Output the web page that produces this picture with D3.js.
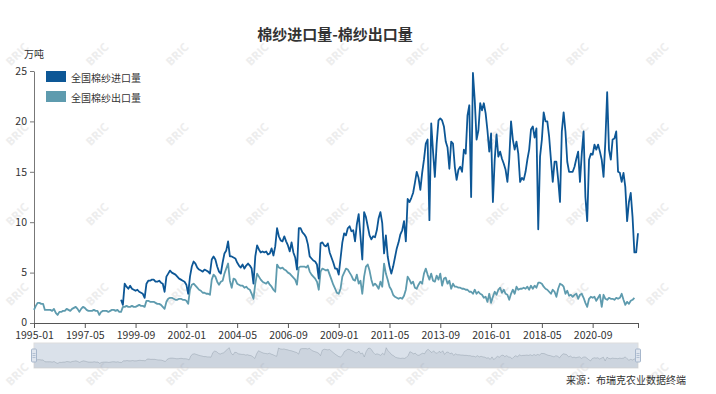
<!DOCTYPE html>
<html>
<head>
<meta charset="utf-8">
<script src="https://d3js.org/d3.v7.min.js"></script>
<style>
  body { margin: 0; background: #fff; }
  svg { display: block; font-family: "Noto Sans CJK SC", "Microsoft YaHei", sans-serif; }
</style>
</head>
<body>
<div id="chart"></div>
<script>
/*=====================================================================
 global variables
======================================================================*/

/**************
 text
***************/
var titleText = "棉纱进口量-棉纱出口量";
var unitText = "万吨";
var sourceText = "来源：布瑞克农业数据终端";
var seriesNames = ["全国棉纱进口量", "全国棉纱出口量"];
var seriesColors = ["#0d5796", "#5e9bae"];

/**************
 categories / ticks
***************/
var startYear = 1995, monthCount = 334; // 1995-01 .. 2022-10
var xTickLabels = ["1995-01", "1997-05", "1999-09", "2002-01", "2004-05", "2006-09",
    "2009-01", "2011-05", "2013-09", "2016-01", "2018-05", "2020-09"];
var yTicks = [0, 5, 10, 15, 20, 25];

var months = [];
for (var m = 0; m < monthCount; m++) {
    var yr = startYear + Math.floor(m / 12), mo = (m % 12) + 1;
    months.push(yr + "-" + (mo < 10 ? "0" + mo : mo));
}

/**************
 data (万吨), monthly
***************/
// import starts 1999-01
var importData = new Array(48).fill(null).concat([
    2.3, 1.8,
    3.9, 3.6, 3.4, 3.7, 3.4, 3.3, 3.2, 3.3, 3.1, 3.0,
    2.9, 2.5, 3.9, 4.2, 4.2, 4.3, 4.3, 4.1, 4.1, 4.2,
    4.0, 3.9, 3.1, 4.6, 4.9, 5.2, 5.0, 4.9, 4.8, 4.6,
    4.4, 4.3, 4.2, 4.1, 3.8, 2.9, 4.6, 5.6, 6.1, 5.9,
    5.5, 5.3, 5.2, 5.1, 5.3, 5.2, 5.1, 4.9, 6.3, 6.6,
    6.3, 5.6, 5.1, 4.9, 6.0, 6.9, 7.2, 8.1, 6.6, 6.6,
    6.5, 6.4, 6.0, 5.7, 5.5, 5.8, 5.4, 5.7, 5.9, 5.7,
    5.4, 3.9, 6.6, 7.7, 7.3, 7.0, 7.1, 7.0, 7.1, 6.8,
    6.9, 7.4, 6.7, 7.6, 9.4, 8.6, 8.2, 8.1, 8.6, 8.1,
    7.7, 7.1, 8.0, 7.0, 6.5, 5.3, 9.4, 9.4, 9.0, 8.8,
    8.5, 7.8, 6.6, 6.4, 6.2, 6.1, 5.8, 4.4, 7.9, 8.0,
    7.7, 7.6, 7.9, 7.0, 6.5, 6.0, 5.4, 5.4, 4.8, 6.4,
    8.0, 8.9, 8.7, 9.4, 9.6, 9.1, 9.2, 8.1, 9.8, 10.8,
    8.6, 6.3, 11.0, 10.5, 9.6, 8.7, 8.3, 8.6, 8.5, 9.2,
    10.4, 11.0, 9.9, 6.9, 8.7, 6.6, 5.6, 4.9, 5.6, 6.5,
    7.4, 8.0, 8.8, 9.2, 10.1, 8.1, 12.3, 12.0, 12.4, 12.9,
    13.9, 15.0, 14.4, 13.2, 14.9, 16.2, 17.8, 18.2, 10.2, 19.8,
    17.0, 14.5, 17.8, 20.1, 20.3, 20.1, 19.5, 18.0, 17.4, 15.3,
    18.0, 17.8, 15.5, 14.2, 15.2, 15.5, 15.0, 17.2, 16.8, 20.6,
    21.6, 12.5, 24.8, 22.1, 18.2, 19.1, 21.8, 21.1, 21.8, 20.8,
    19.1, 17.0, 18.8, 12.0, 16.2, 18.7, 16.5, 17.0, 16.3, 15.8,
    15.2, 14.0, 16.2, 20.0, 18.2, 17.2, 18.0, 16.8, 14.0, 14.4,
    14.2, 15.0, 16.2, 17.2, 19.2, 19.5, 18.4, 19.3, 9.3, 16.5,
    18.2, 20.9, 20.0, 20.0, 18.5, 16.2, 14.0, 16.0, 16.0, 14.2,
    12.0, 19.0, 20.9, 19.0, 16.0, 15.0, 15.0, 15.0, 15.5, 16.3,
    17.0, 14.0, 16.8, 19.0, 12.5, 10.1, 16.2, 16.8, 16.7, 17.7,
    17.2, 17.7, 17.0, 16.2, 14.5, 18.0, 22.9, 17.2, 16.2, 18.2,
    18.3, 19.0, 15.0, 14.9, 14.0, 14.9, 13.5, 10.1, 12.0, 12.9,
    10.5, 7.0, 7.0, 8.9
]);

// export runs 1995-01 .. 2022-08
var exportData = [
    1.3, 1.7, 2.0, 2.0, 1.9, 1.9, 1.3, 1.3, 1.3, 1.3,
    1.2, 1.4, 1.0, 0.8, 1.1, 1.1, 1.2, 1.2, 1.4, 1.3,
    1.2, 1.4, 1.5, 1.6, 1.4, 1.1, 1.4, 1.6, 1.5, 1.3,
    1.2, 1.2, 1.2, 1.3, 1.2, 1.2, 0.8, 1.1, 1.2, 1.2,
    1.2, 1.1, 1.2, 1.3, 1.3, 1.2, 1.3, 1.1, 1.1, 1.6,
    1.6, 1.7, 1.6, 1.6, 1.7, 1.6, 1.6, 1.7, 1.8, 1.7,
    1.7, 1.6, 2.2, 2.2, 2.1, 2.1, 2.1, 2.0, 1.9, 1.9,
    1.8, 1.6, 1.4, 2.1, 2.4, 2.5, 2.5, 2.4, 2.3, 2.3,
    2.4, 2.4, 2.3, 2.3, 2.2, 1.9, 3.3, 3.8, 3.9, 3.7,
    3.5, 3.3, 3.2, 3.0, 3.0, 2.9, 2.9, 2.8, 4.3, 4.8,
    4.6, 4.1, 3.8, 4.1, 4.2, 4.9, 5.4, 5.9, 4.2, 3.5,
    4.4, 4.3, 3.9, 3.8, 3.7, 3.7, 3.5, 3.6, 3.4, 3.3,
    2.9, 2.4, 3.9, 4.9, 4.6, 4.3, 4.1, 4.0, 3.9, 4.1,
    3.8, 3.6, 3.3, 3.1, 5.8, 5.5, 5.4, 5.5, 5.3, 5.2,
    5.0, 4.9, 4.7, 4.5, 4.3, 3.8, 5.5, 5.6, 5.6, 5.6,
    5.5, 5.7, 5.1, 4.8, 4.6, 4.4, 4.1, 3.3, 5.1, 5.4,
    5.3, 5.2, 5.3, 4.8, 4.3, 3.8, 3.4, 3.0, 2.9, 3.4,
    4.6, 5.0, 5.4, 5.3, 5.0, 4.7, 4.3, 4.2, 4.8, 3.9,
    4.2, 2.9, 4.6, 5.6, 5.8, 5.2, 4.3, 3.7, 3.9, 3.7,
    3.4, 4.1, 3.6, 5.9, 4.9, 4.3, 3.6, 3.3, 2.8, 2.6,
    2.5, 2.4, 2.5, 2.4, 2.7, 3.3, 4.6, 4.3, 3.9, 4.1,
    3.5, 3.4, 3.8, 4.1, 3.9, 4.9, 5.4, 4.8, 4.3, 4.9,
    4.2, 4.1, 4.7, 4.3, 4.9, 3.7, 4.4, 4.5, 3.9, 4.2,
    3.4, 3.9, 3.6, 3.6, 3.5, 3.5, 3.4, 3.4, 3.3, 3.3,
    3.1, 3.1, 2.9, 3.3, 2.9, 3.1, 2.9, 2.8, 2.5, 2.6,
    2.1, 2.9, 2.0, 2.6, 3.1, 2.8, 3.3, 3.5, 3.0, 3.3,
    2.9, 2.8, 2.3, 2.9, 3.3, 2.9, 3.6, 3.3, 3.4, 3.4,
    3.5, 3.4, 3.6, 3.3, 3.7, 3.4, 3.7, 3.5, 4.0, 4.0,
    3.9, 3.6, 3.4, 3.3, 3.1, 2.9, 3.3, 3.1, 2.6, 3.4,
    3.9, 3.8, 3.6, 2.9, 3.2, 2.7, 2.8, 2.6, 2.8, 2.9,
    2.4, 2.8, 2.9, 2.5, 2.0, 1.6, 2.4, 2.6, 2.5, 2.6,
    2.2, 2.5, 2.8, 1.6, 2.8, 2.4, 2.3, 2.5, 2.4, 2.4,
    2.3, 2.5, 2.4, 2.5, 2.9, 2.3, 1.8, 2.1, 1.9, 2.2,
    2.3, 2.5
];

/**************
 dimensions
***************/
var width = 716, height = 394;
var plot = { left: 34, right: 638, top: 71, bottom: 323 };
var slider = { top: 343, bottom: 368 };

/*=====================================================================
 draw
======================================================================*/
var svg = d3.select("#chart").append("svg")
    .attr("width", width)
    .attr("height", height);

// watermark
var wm = svg.append("g").attr("class", "watermark");
for (var r = 0; r < 5; r++) {
    for (var c = 0; c < 9; c++) {
        var wx = 17 + c * 80, wy = 54 + r * 80;
        wm.append("text")
            .attr("transform", "translate(" + wx + "," + wy + ") rotate(-45)")
            .attr("text-anchor", "middle")
            .attr("dominant-baseline", "central")
            .attr("font-size", 11.5)
            .attr("font-weight", "bold")
            .attr("font-family", "'Open Sans', sans-serif")
            .attr("fill", "#ededed")
            .text("BRIC");
    }
}

var x = d3.scalePoint().domain(months).range([plot.left, plot.right]);
var y = d3.scaleLinear().domain([0, 25]).range([plot.bottom, plot.top]);

// title
svg.append("text")
    .attr("x", 335).attr("y", 33)
    .attr("text-anchor", "middle")
    .attr("dominant-baseline", "central")
    .attr("font-size", 15)
    .attr("font-weight", "bold")
    .attr("fill", "#333")
    .text(titleText);

// y axis
var yAxis = svg.append("g")
    .attr("transform", "translate(" + plot.left + ",0)")
    .call(d3.axisLeft(y).tickValues(yTicks).tickSize(4).tickSizeOuter(0).tickPadding(3));
yAxis.select(".domain").attr("stroke", "#777");
yAxis.selectAll(".tick line").attr("stroke", "#777");
yAxis.selectAll("text").attr("fill", "#333").attr("font-size", 10.5)
    .attr("font-family", "'Noto Sans CJK SC', sans-serif");
// keep "0" clear of the first x label
yAxis.selectAll(".tick").filter(function (d) { return d === 0; })
    .select("text").attr("dy", "0.2em");

svg.append("text")
    .attr("x", plot.left).attr("y", 53)
    .attr("text-anchor", "middle")
    .attr("dominant-baseline", "central")
    .attr("font-size", 10)
    .attr("fill", "#333")
    .text(unitText);

// x axis
var lastMonth = months[months.length - 1];
var xAxis = svg.append("g")
    .attr("transform", "translate(0," + plot.bottom + ")")
    .call(d3.axisBottom(x)
        .tickValues(xTickLabels.concat([lastMonth]))
        .tickFormat(function (d) { return d === lastMonth ? "" : d; })
        .tickSize(5).tickSizeOuter(0).tickPadding(4));
xAxis.select(".domain").attr("stroke", "#555");
xAxis.selectAll(".tick line").attr("stroke", "#555");
xAxis.selectAll("text").attr("fill", "#333").attr("font-size", 10.5)
    .attr("font-family", "'Noto Sans CJK SC', sans-serif");

// lines
var line = d3.line()
    .defined(function (d) { return d != null; })
    .x(function (d, i) { return x(months[i]); })
    .y(function (d) { return y(d); });

svg.append("path")
    .datum(exportData)
    .attr("fill", "none")
    .attr("stroke", seriesColors[1])
    .attr("stroke-width", 1.8)
    .attr("stroke-linejoin", "round")
    .attr("d", line);

svg.append("path")
    .datum(importData)
    .attr("fill", "none")
    .attr("stroke", seriesColors[0])
    .attr("stroke-width", 1.8)
    .attr("stroke-linejoin", "round")
    .attr("d", line);

// legend
var legend = svg.append("g").attr("transform", "translate(46,71)");
seriesNames.forEach(function (name, i) {
    var g = legend.append("g").attr("transform", "translate(0," + (i * 20) + ")");
    g.append("rect")
        .attr("width", 20).attr("height", 11)
        .attr("fill", seriesColors[i]);
    g.append("text")
        .attr("x", 25).attr("y", 6)
        .attr("dominant-baseline", "central")
        .attr("font-size", 10)
        .attr("fill", "#333")
        .text(name);
});

/*=====================================================================
 data zoom slider
======================================================================*/
var sx = d3.scaleLinear().domain([0, exportData.length - 1]).range([plot.left, plot.right]);
var ext = d3.extent(exportData);
var pad = (ext[1] - ext[0]) * 0.3;
var sy = d3.scaleLinear().domain([ext[0] - pad, ext[1] + pad]).range([slider.bottom, slider.top]);

var sl = svg.append("g").attr("class", "slider");
sl.append("rect")
    .attr("x", plot.left).attr("y", slider.top)
    .attr("width", plot.right - plot.left).attr("height", slider.bottom - slider.top)
    .attr("fill", "rgba(167,183,204,0.42)")
    .attr("stroke", "#ddd");

sl.append("path")
    .datum(exportData)
    .attr("fill", "rgba(47,69,84,0.08)")
    .attr("d", d3.area()
        .x(function (d, i) { return sx(i); })
        .y0(slider.bottom)
        .y1(function (d) { return sy(d); }));

sl.append("path")
    .datum(exportData)
    .attr("fill", "none")
    .attr("stroke", "rgba(47,69,84,0.3)")
    .attr("stroke-width", 0.6)
    .attr("d", d3.line()
        .x(function (d, i) { return sx(i); })
        .y(function (d) { return sy(d); }));

[plot.left, plot.right].forEach(function (hx) {
    var h = sl.append("g").attr("transform", "translate(" + hx + "," + ((slider.top + slider.bottom) / 2) + ")");
    h.append("rect")
        .attr("x", -2.5).attr("y", -6.5)
        .attr("width", 5).attr("height", 13)
        .attr("rx", 1)
        .attr("fill", "#dfe5ee")
        .attr("stroke", "#a7b7cc");
    [-2, 0, 2].forEach(function (dy) {
        h.append("line")
            .attr("x1", -1.5).attr("x2", 1.5)
            .attr("y1", dy).attr("y2", dy)
            .attr("stroke", "#a7b7cc")
            .attr("stroke-width", 0.8);
    });
});

// source
svg.append("text")
    .attr("x", 686).attr("y", 379)
    .attr("text-anchor", "end")
    .attr("dominant-baseline", "central")
    .attr("font-size", 10)
    .attr("fill", "#333")
    .text(sourceText);
</script>
</body>
</html>
